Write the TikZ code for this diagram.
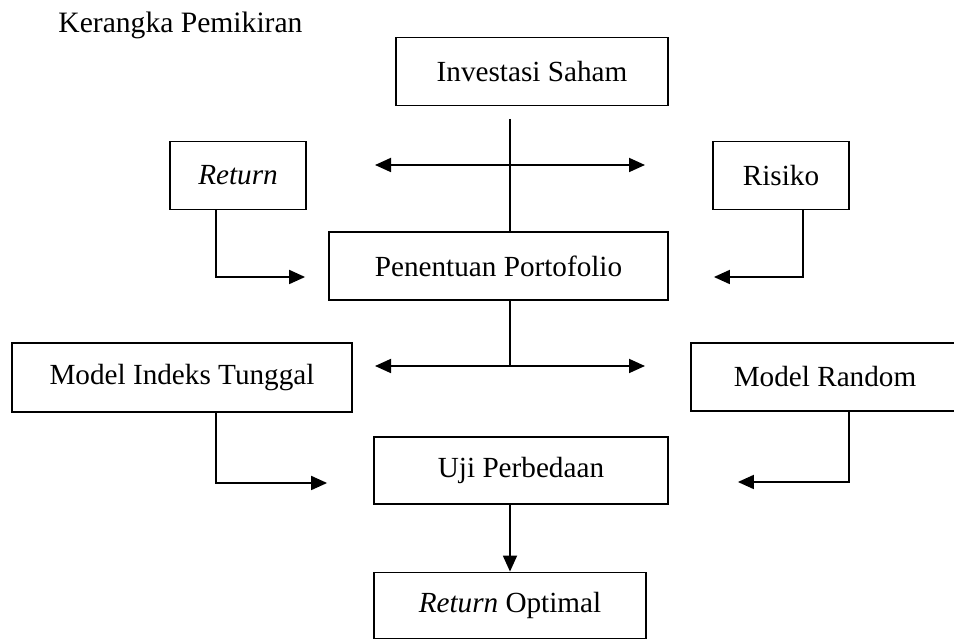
\documentclass[tikz,border=0pt]{standalone}
\usepackage{fontspec}
\setmainfont{Liberation Serif}
\usetikzlibrary{arrows.meta}
\tikzset{
	kotak/.style={draw, line width=0.9pt, inner sep=0pt, align=center, font=\fontsize{14.6}{16}\selectfont},
	panah/.style={line width=0.9pt, -{Triangle[length=8pt,width=7pt]}},
	garis/.style={line width=0.9pt}
}
\begin{document}
\begin{tikzpicture}[x=0.5pt,y=-0.5pt]
	\useasboundingbox (0,0) rectangle (954,640);
	\node[anchor=base west, inner sep=0pt, font=\fontsize{14.8}{16}\selectfont] (judul) at (58,33) {Kerangka Pemikiran};
	\node[kotak, minimum width=136pt, minimum height=34pt] (invest) at (532,71.5) {Investasi Saham};
	\node[kotak, minimum width=68pt, minimum height=34pt] (ret) at (238,175.5) {\textit{Return}};
	\node[kotak, minimum width=68pt, minimum height=34pt] (risk) at (781,175.5) {Risiko};
	\node[kotak, minimum width=169.5pt, minimum height=34pt] (port) at (498.5,266) {Penentuan Portofolio};
	\node[kotak, minimum width=170pt, minimum height=34.5pt] (mit) at (182,377.5) {Model Indeks Tunggal};
	\node[kotak, minimum width=134pt, minimum height=34pt] (mr) at (825,377) {Model Random};
	\node[kotak, minimum width=147pt, minimum height=33.5pt] (uji) at (521,470.5) {Uji Perbedaan};
	\node[kotak, minimum width=136pt, minimum height=33pt] (opt) at (510,605.5) {\textit{Return} Optimal};
	% garis tengah dan panah dua arah
	\coordinate (atas) at (510,119);
	\coordinate (kiri1) at (375,165);
	\coordinate (kanan1) at (645,165);
	\coordinate (tengah2) at (510,366);
	\coordinate (kiri2) at (375,366);
	\coordinate (kanan2) at (645,366);
	\draw[garis] (atas) -- (atas |- port.north);
	\draw[panah, {Triangle[length=8pt,width=7pt]}-{Triangle[length=8pt,width=7pt]}] (kiri1) -- (kanan1);
	\draw[garis] (tengah2 |- port.south) -- (tengah2);
	\draw[panah, {Triangle[length=8pt,width=7pt]}-{Triangle[length=8pt,width=7pt]}] (kiri2) -- (kanan2);
	% panah samping
	\draw[panah] ([xshift=-11pt]ret.south) |- ([xshift=-11.5pt,yshift=-5.5pt]port.west);
	\draw[panah] ([xshift=11pt]risk.south) |- ([xshift=22.5pt,yshift=-5.5pt]port.east);
	\draw[panah] ([xshift=17pt]mit.south) |- ([xshift=-23pt,yshift=-6.25pt]uji.west);
	\draw[panah] ([xshift=12pt]mr.south) |- ([xshift=34.5pt,yshift=-5.75pt]uji.east);
	\draw[panah] (opt.north |- uji.south) -- (opt.north);
\end{tikzpicture}
\end{document}
